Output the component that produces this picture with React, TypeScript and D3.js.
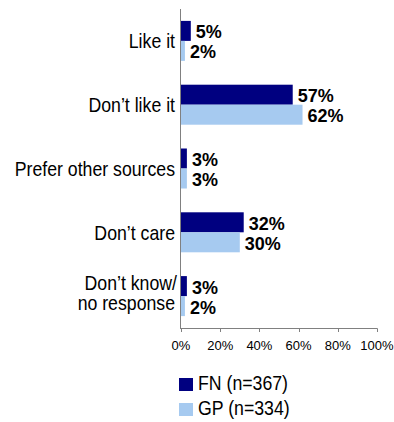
import React from "react";
import * as d3 from "d3";

const categories: string[][] = [
  ["Like it"],
  ["Don’t like it"],
  ["Prefer other sources"],
  ["Don’t care"],
  ["Don’t know/", "no response"],
];
const fnValues = [5, 57, 3, 32, 3];
const gpValues = [2, 62, 3, 30, 2];
const xTicks = [0, 20, 40, 60, 80, 100];
const seriesNames = ["FN (n=367)", "GP (n=334)"];
const colors = ["#000080", "#A6CAF0"];

const W = 394;
const H = 422;
const FONT = "'Liberation Sans', Arial, Helvetica, sans-serif";
const SX = 0.885;

export default function App() {
  const x = d3.scaleLinear().domain([0, 100]).range([181, 377]);
  const y = d3
    .scaleBand<number>()
    .domain(d3.range(categories.length))
    .range([9, 328])
    .paddingInner(0.373)
    .paddingOuter(0.1865);
  const bh = y.bandwidth() / 2;
  const series = [fnValues, gpValues];

  return (
    <svg
      width={W}
      height={H}
      style={{ position: "absolute", left: 0, top: 0, background: "#fff" }}
      fontFamily={FONT}
    >
      <rect width={W} height={H} fill="#fff" />
      {categories.map((lines, i) => {
        const c = (y(i) as number) + y.bandwidth() / 2;
        return lines.length === 1 ? (
          <text
            key={i}
            transform={`translate(175,${c + 7.3}) scale(${SX},1)`}
            textAnchor="end"
            fontSize={20}
            fill="#000"
          >
            {lines[0]}
          </text>
        ) : (
          <g key={i}>
            {lines.map((l, j) => (
              <text
                key={j}
                transform={`translate(${j === 0 ? 177 : 175},${c - 6 + j * 20}) scale(${SX},1)`}
                textAnchor="end"
                fontSize={20}
                fill="#000"
              >
                {l}
              </text>
            ))}
          </g>
        );
      })}
      {series.map((vals, s) =>
        vals.map((v, i) => {
          const top = (y(i) as number) + s * bh;
          return (
            <g key={`${s}-${i}`}>
              <rect
                x={x(0)}
                y={top}
                width={x(v) - x(0)}
                height={bh}
                fill={colors[s]}
              />
              <text
                x={x(v) + 5}
                y={top + bh / 2 + 7.5}
                fontSize={18}
                fontWeight="bold"
                fill="#000"
              >
                {v}%
              </text>
            </g>
          );
        })
      )}
      <line x1={180.5} x2={180.5} y1={9} y2={328.5} stroke="#808080" strokeWidth={1} />
      <line x1={180} x2={377.5} y1={328.5} y2={328.5} stroke="#808080" strokeWidth={1} />
      {xTicks.map((t) => (
        <g key={t}>
          <line
            x1={Math.round(x(t)) + 0.5}
            x2={Math.round(x(t)) + 0.5}
            y1={328.5}
            y2={332}
            stroke="#808080"
          />
          <text x={x(t)} y={350} textAnchor="middle" fontSize={13} fill="#000">
            {t}%
          </text>
        </g>
      ))}
      {seriesNames.map((n, s) => (
        <g key={n}>
          <rect x={179} y={378 + s * 25} width={14} height={13} fill={colors[s]} />
          <text
            transform={`translate(198,${389.5 + s * 25.5}) scale(${SX},1)`}
            fontSize={20}
            fill="#000"
          >
            {n}
          </text>
        </g>
      ))}
    </svg>
  );
}
